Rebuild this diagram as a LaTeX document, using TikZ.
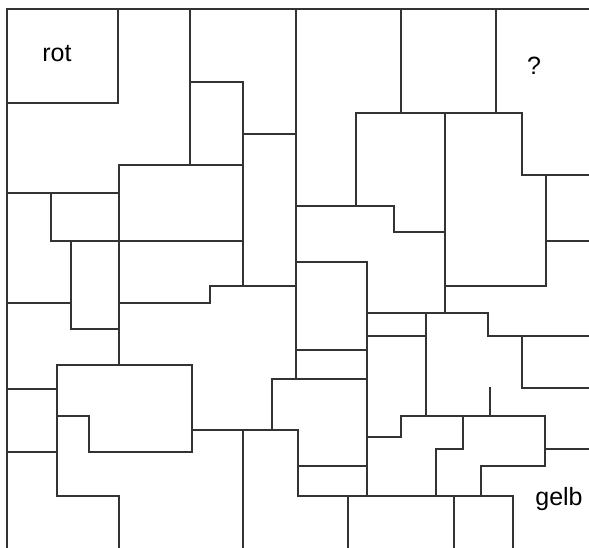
\documentclass[tikz,border=0pt]{standalone}
\usepackage{fontspec}
\setmainfont{Liberation Sans}
\usetikzlibrary{calc}

\begin{document}
\begin{tikzpicture}[x=1pt,y=-1pt,line width=1.2pt,draw=black!80,
  grenze/.style={line cap=rect},
  land/.style={font=\fontsize{25}{30}\selectfont,anchor=base,inner sep=0pt}]
\useasboundingbox (0,0) rectangle (589,548);

\draw[grenze] (7,548) -- (7,9) -- (589,9);

\draw[grenze] (7,103) -- (118,103) -- (118,9);
\draw[grenze] (190,9) -- (190,165);
\draw[grenze] (119,165) -- (243,165);
\draw[grenze] (190,82) -- (243,82) -- (243,286);
\draw[grenze] (243,134) -- (296,134);
\draw[grenze] (296,9) -- (296,379);

\draw[grenze] (401,9) -- (401,113);
\draw[grenze] (496,9) -- (496,113);
\draw[grenze] (356,206) -- (356,113) -- (522,113) -- (522,175) -- (589,175);
\draw[grenze] (445,113) -- (445,313);
\draw[grenze] (296,206) -- (394,206) -- (394,232) -- (445,232);
\draw[grenze] (546,175) -- (546,286);
\draw[grenze] (546,241) -- (589,241);
\draw[grenze] (445,286) -- (546,286);

\draw[grenze] (7,193) -- (119,193);
\draw[grenze] (51,193) -- (51,241) -- (243,241);
\draw[grenze] (119,165) -- (119,365);
\draw[grenze] (71,241) -- (71,329) -- (119,329);
\draw[grenze] (7,303) -- (71,303);
\draw[grenze] (119,303) -- (210,303) -- (210,286) -- (296,286);

\draw[grenze] (296,262) -- (367,262) -- (367,496);
\draw[grenze] (296,350) -- (367,350);
\draw[grenze] (272,430) -- (272,379) -- (367,379);
\draw[grenze] (367,313) -- (488,313) -- (488,336) -- (589,336);
\draw[grenze] (367,336) -- (426,336);
\draw[grenze] (426,313) -- (426,416);

\draw[grenze] (522,336) -- (522,388) -- (589,388);
\draw[grenze] (490,388) -- (490,416);
\draw[grenze] (401,437) -- (401,416) -- (545,416) -- (545,466) -- (481,466) -- (481,496);
\draw[grenze] (545,449) -- (589,449);
\draw[grenze] (367,437) -- (401,437);
\draw[grenze] (463,416) -- (463,449) -- (436,449) -- (436,496);

\draw[grenze] (194,430) -- (298,430) -- (298,496);
\draw[grenze] (298,466) -- (367,466);
\draw[grenze] (298,496) -- (513,496) -- (513,548);
\draw[grenze] (348,496) -- (348,548);
\draw[grenze] (454,496) -- (454,548);
\draw[grenze] (243,430) -- (243,548);

\draw[grenze] (57,496) -- (57,365) -- (192,365) -- (192,452) -- (89,452) -- (89,416) -- (57,416);
\draw[grenze] (7,389) -- (57,389);
\draw[grenze] (7,452) -- (57,452);
\draw[grenze] (57,496) -- (119,496) -- (119,548);

\node[land] (rot) at (57,62) {rot};
\node[land] (frage) at (534,75) {?};
\node[land] (gelb) at (559,505) {gelb};

\end{tikzpicture}
\end{document}
